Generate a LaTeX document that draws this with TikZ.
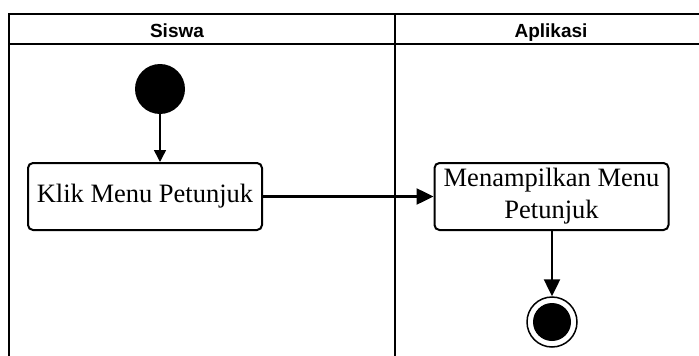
\documentclass[tikz,border=0pt]{standalone}
\usepackage{fontspec}
\setmainfont{Liberation Serif}
\newfontfamily\lanefont{Liberation Sans}
\usetikzlibrary{arrows.meta,positioning}

\tikzset{
    lane/.style={line width=2.2pt},
    lanetitle/.style={anchor=base, font=\lanefont\bfseries\fontsize{19}{22}\selectfont},
    action/.style={draw, line width=2pt, rounded corners=5pt, minimum width=234pt,
        minimum height=67pt, align=center, font=\fontsize{26.5}{32}\selectfont,
        inner sep=1pt},
    flow/.style={-{Triangle[length=17pt,width=16pt]}, line width=2.5pt},
    thinflow/.style={-{Triangle[length=12pt,width=12pt]}, line width=1.5pt}
}

\begin{document}
\begin{tikzpicture}[x=1pt, y=-1pt]
        \useasboundingbox (0,0) rectangle (699,356);
        % swimlanes
        \draw[lane] (9,356) -- (9,14) -- (699,14);
        \draw[lane] (9,44) -- (699,44);
        \draw[lane] (395,14) -- (395,356);
        \node[lanetitle] (siswa) at (177,37) {Siswa};
        \node[lanetitle] (aplikasi) at (551,37) {Aplikasi};

        % activities
        \node[circle, fill=black, minimum size=50pt, inner sep=0pt] (start) at (160,89) {};
        \node[action] (klik) at (145,196.5) {Klik Menu Petunjuk};
        \node[action] (tampil) at (551.5,196.5) {Menampilkan Menu\\Petunjuk};
        \node[circle, draw, line width=1.5pt, minimum size=50pt, inner sep=0pt] (finish) at (552,322) {};
        \node[circle, fill=black, minimum size=38pt, inner sep=0pt] at (finish) {};

        \draw[thinflow] (start) -- (start |- klik.north);
        \draw[flow] (klik) -- (tampil);
        \draw[flow] (finish |- tampil.south) -- (finish);
    \end{tikzpicture}
\end{document}
